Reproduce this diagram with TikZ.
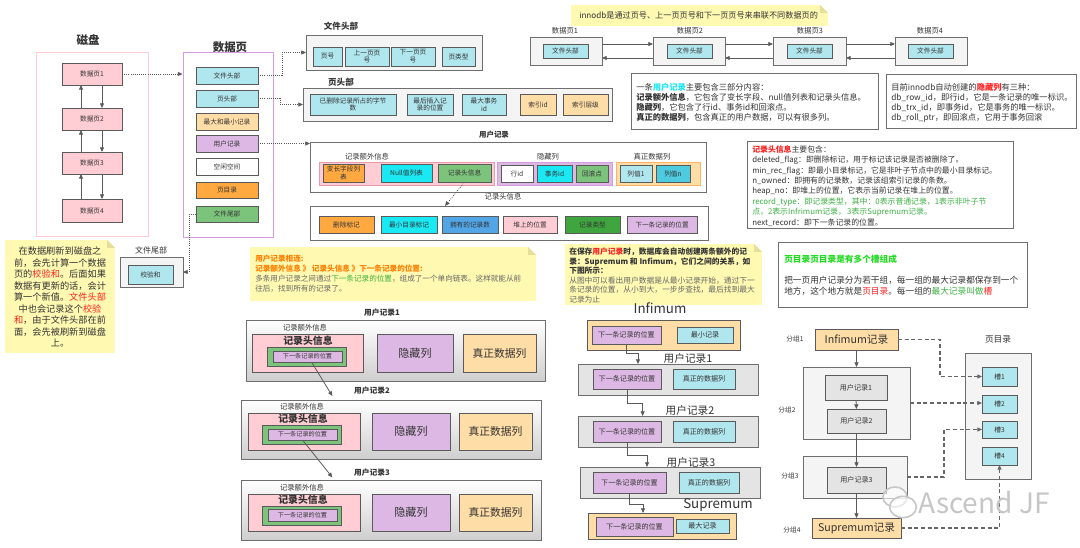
\documentclass[tikz,border=0pt]{standalone}
\usepackage{fontspec}
\setmainfont{Noto Sans CJK SC}
\usetikzlibrary{arrows.meta}
\definecolor{bd}{HTML}{5A5A5A}
\definecolor{cyl}{HTML}{B0E6EE}
\definecolor{cyb}{HTML}{1AE8F2}
\definecolor{orl}{HTML}{FFDDA6}
\definecolor{org}{HTML}{FFA940}
\definecolor{pur}{HTML}{DDB8E4}
\definecolor{grn}{HTML}{7CC47C}
\definecolor{grd}{HTML}{3FA63F}
\definecolor{blu}{HTML}{52A6E6}
\definecolor{pnk}{HTML}{FFCDD3}
\definecolor{cyn}{HTML}{4ECBE0}
\definecolor{gbox}{HTML}{F4F4F4}
\definecolor{gfl}{HTML}{E4E4E4}
\definecolor{gbd}{HTML}{6E6E6E}
\definecolor{dgr}{HTML}{666666}
\definecolor{yel}{HTML}{FFF9B1}
\definecolor{yelf}{HTML}{E6DE9A}
\definecolor{txt}{HTML}{333333}
\definecolor{rd}{HTML}{FF2020}
\definecolor{gtx}{HTML}{3CB043}
\definecolor{brg}{HTML}{22DD22}
\definecolor{otx}{HTML}{FF7F00}
\definecolor{purb}{HTML}{D59BE0}
\definecolor{pinkb}{HTML}{FFC9D3}
\definecolor{pinkd}{HTML}{E89AAA}
\newcommand{\bx}[7]{\node[#6, minimum width={((#4)-(#2))*0.75pt}, minimum height={((#5)-(#3))*0.75pt}] (#1) at ({((#2)+(#4))/2},{((#3)+(#5))/2}) {#7};}
\newcommand{\yfold}[3]{\fill[white] ({#1-8},#2) -- (#1,#2) -- (#1,{#2+8}) -- cycle;
  \fill[yelf] ({#1-8},#2) -- ({#1-8},{#2+8}) -- (#1,{#2+8}) -- cycle;}
\begin{document}
\begin{tikzpicture}[x=0.75pt,y=-0.75pt,
  bx/.style={draw=bd,line width=0.6pt,inner sep=0pt,outer sep=0pt,align=center,text=txt,font=\fontsize{5}{5.8}\selectfont},
  sCy/.style={bx,fill=cyl}, sCb/.style={bx,fill=cyb}, sOl/.style={bx,fill=orl},
  sOr/.style={bx,fill=org}, sPu/.style={bx,fill=pur}, sGr/.style={bx,fill=grn},
  sGd/.style={bx,fill=grd}, sBl/.style={bx,fill=blu}, sPk/.style={bx,fill=pnk},
  sCn/.style={bx,fill=cyn}, sWh/.style={bx,fill=white},
  gbx/.style={draw=gbd,line width=0.6pt,fill=gbox,inner sep=0pt,outer sep=0pt},
  frame/.style={draw=gbd,line width=0.7pt,fill=white,inner sep=0pt,outer sep=0pt},
  shd/.style={draw=gbd,line width=0.6pt,top color=white,bottom color=gray!38,inner sep=0pt,outer sep=0pt},
  gflat/.style={draw=gbd,line width=0.6pt,fill=gfl,inner sep=0pt,outer sep=0pt},
  lbl/.style={inner sep=0pt,text=txt,font=\fontsize{5.5}{6.5}\selectfont},
  ttl/.style={inner sep=0pt,text=txt,font=\bfseries\fontsize{6.4}{7.5}\selectfont},
  big/.style={inner sep=0pt,text=txt,font=\bfseries\fontsize{8.6}{10}\selectfont},
  lat/.style={inner sep=0pt,text=txt,font=\fontsize{10}{12}\selectfont},
  arr/.style={draw=bd,line width=0.6pt,-{Triangle[length=3.5pt,width=3pt]}},
  darr/.style={arr,densely dotted},
  dsh/.style={draw=dgr,line width=0.8pt,dash pattern=on 3pt off 2pt,-{Triangle[length=3.5pt,width=3pt]}},
  ynote/.style={fill=yel,inner sep=0pt,outer sep=0pt}
]
\useasboundingbox[fill=white] (0,0) rectangle (1080,548);

% ---------------- disk
\node[big] (tdisk) at (88,40) {磁盘};
\bx{disk}{36}{52}{148}{236}{draw=pinkb,line width=0.7pt,inner sep=0pt}{}
\bx{d1}{62}{63}{122}{85}{sPk}{数据页1}
\bx{d2}{62}{108}{122}{130}{sPk}{数据页2}
\bx{d3}{62}{152}{122}{174}{sPk}{数据页3}
\bx{d4}{62}{199}{122}{222}{sPk}{数据页4}
\foreach \a/\b in {d1/d2,d2/d3,d3/d4}{
  \draw[arr] ([xshift=-8.25pt]\b.north) -- ([xshift=-8.25pt]\a.south);
  \draw[arr] ([xshift=7.5pt]\a.south) -- ([xshift=7.5pt]\b.north);
}

% ---------------- data page
\node[big] (tpage) at (230,47) {数据页};
\bx{page}{183}{52}{273}{237}{draw=purb,line width=0.7pt,inner sep=0pt}{}
\bx{pfh}{196}{67}{258}{84}{sCy}{文件头部}
\bx{pph}{196}{90}{258}{107}{sCy}{页头部}
\bx{pmm}{196}{113}{258}{130}{sOl}{最大和最小记录}
\bx{pur}{196}{135}{258}{152}{sPu}{用户记录}
\bx{pfree}{196}{158}{258}{175}{sWh}{空闲空间}
\bx{pdir}{196}{182}{258}{198}{sOr}{页目录}
\bx{ptail}{196}{206}{258}{222}{sGr}{文件尾部}
\draw[darr] (d1.east) -- (d1.east -| page.west);

% ---------------- file tail
\node[lbl,font=\fontsize{6}{7}\selectfont] (ttail) at (151,250) {文件尾部};
\bx{tail}{120}{257}{183}{287}{gbx}{}
\bx{tail1}{128}{265}{173}{284}{sCy}{校验和}
\draw[darr] (ptail.west) -- ++(-7,0) |- (tail.east);

% ---------------- note 1
\bx{n1}{5}{240}{115}{353}{ynote}{}
\yfold{115}{240}{}
\node[inner sep=0pt,align=center,text=txt,font=\fontsize{6.9}{8.6}\selectfont] (n1t) at (60,297)
{在数据刷新到磁盘之\\前，会先计算一个数据\\页的\textcolor{rd}{校验和}。后面如果\\数据有更新的话，会计\\算一个新值。\textcolor{rd}{文件头部}\\中也会记录这个\textcolor{rd}{校验}\\\textcolor{rd}{和}，由于文件头部在前\\面，会先被刷新到磁盘\\上。};

% ---------------- file header
\node[ttl] (tfh) at (341,26) {文件头部};
\bx{fh}{306}{35}{482}{70}{gbx}{}
\bx{fh1}{313}{47}{342}{66}{sCy}{页号}
\bx{fh2}{345}{47}{389}{66}{sCy}{上一页页\\号}
\bx{fh3}{391}{47}{435}{66}{sCy}{下一页页\\号}
\bx{fh4}{442}{47}{475}{66}{sCy}{页类型}
\draw[darr] (pfh.east) -- ++(24,0) |- (fh.west);

% ---------------- page header
\node[ttl] (tph) at (341,82) {页头部};
\bx{ph}{303}{88}{612}{121}{gbx}{}
\bx{ph1}{310}{94}{396}{115}{sCy}{已删除记录所占的字节\\数}
\bx{ph2}{407}{94}{453}{115}{sCy}{最后插入记\\录的位置}
\bx{ph3}{462}{94}{506}{115}{sCy}{最大事务\\id}
\bx{ph4}{520}{94}{556}{115}{sOl}{索引id}
\bx{ph5}{563}{94}{608}{115}{sOl}{索引层级}
\draw[darr] (pph.east) -- ++(22,0) |- (ph.west);

% ---------------- user record
\node[ttl,font=\bfseries\fontsize{5.6}{6.5}\selectfont] (tur) at (494,135) {用户记录};
\bx{urb}{310}{142}{706}{192}{frame}{}
\node[lbl] (lextra) at (367,157) {记录额外信息};
\bx{ex}{319}{162}{494}{185}{draw=pinkd,line width=0.7pt,fill=pnk,inner sep=0pt}{}
\bx{ex1}{323}{164}{364}{182}{sOr}{变长字段列\\表}
\bx{ex2}{381}{164}{432}{182}{sCb}{Null值列表}
\bx{ex3}{438}{164}{491}{182}{sGr}{记录头信息}
\node[lbl] (lhid) at (548,157) {隐藏列};
\bx{hid}{497}{162}{612}{185}{draw=purb,line width=0.7pt,fill=pur,inner sep=0pt}{}
\bx{hid1}{501}{165}{533}{182}{sWh}{行id}
\bx{hid2}{537}{165}{572}{182}{sCb}{事务id}
\bx{hid3}{576}{165}{608}{182}{sGr}{回滚点}
\node[lbl] (lreal) at (652,157) {真正数据列};
\bx{real}{616}{162}{700}{185}{draw=orange!60,line width=0.7pt,fill=orl,inner sep=0pt}{}
\bx{real1}{620}{165}{652}{182}{sCy}{列值1}
\bx{real2}{656}{165}{690}{182}{sCn}{列值n}
\draw[darr] (pur.east) -- (pur.east -| urb.west);

% ---------------- record header
\node[lbl] (trh) at (503,197) {记录头信息};
\bx{rh}{310}{206}{708}{240}{frame}{}
\bx{rh1}{319}{216}{374}{233}{sOr}{删除标记}
\bx{rh2}{381}{216}{437}{233}{sCb}{最小目录标记}
\bx{rh3}{442}{216}{498}{233}{sBl}{拥有的记录数}
\bx{rh4}{503}{216}{557}{233}{sPk}{堆上的位置}
\bx{rh5}{565}{216}{620}{233}{sGd}{记录类型}
\bx{rh6}{627}{216}{697}{233}{sPu}{下一条记录的位置}
\draw[darr] (ex3.south) -- ([xshift=-48pt]rh.north);

% ---------------- note 2
\bx{n2}{250}{247}{536}{301}{ynote}{}
\yfold{536}{247}{}
\node[anchor=north west,inner sep=0pt,align=left,text=dgr,font=\fontsize{5.7}{7.5}\selectfont] (n2t) at (255,255)
{\textcolor{otx}{\textbf{用户记录相连:}}\\
\textcolor{otx}{\textbf{记录额外信息 》 记录头信息 》下一条记录的位置:}}\\
多条用户记录之间通过\textcolor{gtx}{下一条记录的位置}，组成了一个单向链表。这样就能从前\\
往后，找到所有的记录了。};

% ---------------- record chain (left)
\node[ttl,font=\bfseries\fontsize{5.8}{7}\selectfont] (tr1) at (382,313) {用户记录1};
\bx{r1}{246}{320}{545}{381}{shd}{}
\node[lbl] (r1l) at (305,328) {记录额外信息};
\bx{r1p}{252}{334}{363}{372}{sPk}{}
\node[ttl,font=\bfseries\fontsize{7.4}{8}\selectfont] (r1h) at (308,341) {记录头信息};
\bx{r1g}{267}{347}{346}{366}{sGr}{}
\bx{r1n}{273}{351}{342}{362}{sPu,font=\fontsize{4.6}{5}\selectfont}{下一条记录的位置}
\bx{r1hid}{377}{334}{453}{372}{sPu,font=\fontsize{8.3}{9}\selectfont}{隐藏列}
\bx{r1real}{463}{334}{536}{372}{sOl,font=\fontsize{8.1}{9}\selectfont}{真正数据列}

\node[ttl,font=\bfseries\fontsize{5.8}{7}\selectfont] (tr2) at (372,391) {用户记录2};
\bx{r2}{241}{400}{541}{459}{shd}{}
\node[lbl] (r2l) at (302,407) {记录额外信息};
\bx{r2p}{248}{413}{360}{450}{sPk}{}
\node[ttl,font=\bfseries\fontsize{7.4}{8}\selectfont] (r2h) at (303,419) {记录头信息};
\bx{r2g}{262}{425}{341}{444}{sGr}{}
\bx{r2n}{268}{429}{337}{440}{sPu,font=\fontsize{4.6}{5}\selectfont}{下一条记录的位置}
\bx{r2hid}{372}{413}{450}{450}{sPu,font=\fontsize{8.3}{9}\selectfont}{隐藏列}
\bx{r2real}{459}{413}{532}{450}{sOl,font=\fontsize{8.1}{9}\selectfont}{真正数据列}

\node[ttl,font=\bfseries\fontsize{5.8}{7}\selectfont] (tr3) at (372,473) {用户记录3};
\bx{r3}{241}{480}{541}{540}{shd}{}
\node[lbl] (r3l) at (302,488) {记录额外信息};
\bx{r3p}{248}{494}{360}{531}{sPk}{}
\node[ttl,font=\bfseries\fontsize{7.4}{8}\selectfont] (r3h) at (303,500) {记录头信息};
\bx{r3g}{262}{506}{341}{525}{sGr}{}
\bx{r3n}{268}{509}{337}{521}{sPu,font=\fontsize{4.6}{5}\selectfont}{下一条记录的位置}
\bx{r3hid}{372}{494}{450}{531}{sPu,font=\fontsize{8.3}{9}\selectfont}{隐藏列}
\bx{r3real}{459}{494}{532}{531}{sOl,font=\fontsize{8.1}{9}\selectfont}{真正数据列}

\draw[arr] ([xshift=3pt]r1n.south) -- ([xshift=-44pt,yshift=3pt]r2.north);
\draw[arr] (r2n.south) -- ([xshift=-44pt,yshift=2pt]r3.north);

% ---------------- banner + data page chain
\bx{ban}{571}{5}{828}{26}{ynote}{}
\yfold{828}{5}{}
\node[anchor=west,inner sep=0pt,text=txt,font=\fontsize{6.1}{7}\selectfont] (bant) at (579,15.5) {innodb是通过页号、上一页页号和下一页页号来串联不同数据页的};

\node[lbl] (tp1) at (565,31) {数据页1};
\bx{p1}{530}{37}{602}{65}{gbx}{}
\bx{p1f}{543}{44}{588}{58}{sCy}{文件头部}
\node[lbl] (tp2) at (690,31) {数据页2};
\bx{p2}{653}{37}{725}{65}{gbx}{}
\bx{p2f}{667}{44}{712}{58}{sCy}{文件头部}
\node[lbl] (tp3) at (810,31) {数据页3};
\bx{p3}{773}{37}{846}{65}{gbx}{}
\bx{p3f}{787}{44}{832}{58}{sCy}{文件头部}
\node[lbl] (tp4) at (930,31) {数据页4};
\bx{p4}{895}{37}{967}{65}{gbx}{}
\bx{p4f}{908}{44}{953}{58}{sCy}{文件头部}
\foreach \a/\b in {p1/p2,p2/p3,p3/p4}{
  \draw[arr] ([yshift=5.25pt]\a.east) -- ([yshift=5.25pt]\b.west);
  \draw[arr] ([yshift=-5.25pt]\b.west) -- ([yshift=-5.25pt]\a.east);
}

% ---------------- text boxes
\bx{tb1}{631}{73}{878}{129}{frame}{}
\node[anchor=north west,inner sep=0pt,align=left,text=txt,font=\fontsize{6.2}{7.5}\selectfont] (tb1t) at (636,83)
{一条\textbf{\textcolor{cyb}{用户记录}}主要包含三部分内容：\\
\textbf{记录额外信息}，它包含了变长字段、null值列表和记录头信息。\\
\textbf{隐藏列}，它包含了行id、事务id和回滚点。\\
\textbf{真正的数据列}，包含真正的用户数据，可以有很多列。};

\bx{tb2}{886}{74}{1076}{128}{frame}{}
\node[anchor=north west,inner sep=0pt,align=left,text=txt,font=\fontsize{6.2}{7.5}\selectfont] (tb2t) at (891,83)
{目前innodb自动创建的\textbf{\textcolor{rd}{隐藏列}}有三种：\\
db\_row\_id，即行id，它是一条记录的唯一标识。\\
db\_trx\_id，即事务id，它是事务的唯一标识。\\
db\_roll\_ptr，即回滚点，它用于事务回滚};

\bx{tb3}{747}{141}{1013}{228}{frame}{}
\node[anchor=north west,inner sep=0pt,align=left,text=txt,font=\fontsize{5.9}{7.85}\selectfont] (tb3t) at (752,145)
{\textbf{\textcolor{rd}{记录头信息}}主要包含：\\
deleted\_flag：即删除标记，用于标记该记录是否被删除了。\\
min\_rec\_flag：即最小目录标记，它是非叶子节点中的最小目录标记。\\
n\_owned：即拥有的记录数，记录该组索引记录的条数。\\
heap\_no：即堆上的位置，它表示当前记录在堆上的位置。\\
\textcolor{gtx}{record\_type：即记录类型，其中：0表示普通记录，1表示非叶子节}\\
\textcolor{gtx}{点，2表示Infrimum记录，\,3表示Supremum记录。}\\
next\_record：即下一条记录的位置。};

\bx{tb4}{778}{242}{1027}{307}{frame}{}
\node[anchor=north west,inner sep=0pt,align=left,text=txt,font=\fontsize{6.5}{8.2}\selectfont] (tb4t) at (784,255)
{\textbf{\textcolor{brg}{页目录页目录是有多个槽组成}}\\[7.5pt]
把一页用户记录分为若干组，每一组的最大记录都保存到一个\\
地方，这个地方就是\textcolor{rd}{页目录}。每一组的\textcolor{gtx}{最大记录叫做}\textcolor{rd}{槽}};

% ---------------- note 3
\bx{n3}{565}{244}{762}{305}{ynote}{}
\yfold{762}{244}{}
\node[anchor=north west,inner sep=0pt,align=left,text=dgr,font=\fontsize{5.8}{7.2}\selectfont] (n3t) at (569,247.5)
{\textcolor{txt}{\textbf{在保存\textcolor{rd}{用户记录}时，数据库会自动创建两条额外的记}}\\
\textcolor{txt}{\textbf{录：Supremum 和 Infimum，它们之间的关系，如}}\\
\textcolor{txt}{\textbf{下图所示：}}\\
从图中可以看出用户数据是从最小记录开始，通过下一\\
条记录的位置，从小到大，一步步查找，最后找到最大\\
记录为止};

% ---------------- infimum / supremum chain
\node[lat] (tinf) at (660,308) {Infimum};
\bx{inf}{587}{320}{740}{350}{sOl}{}
\bx{inf1}{592}{326}{661}{344}{sPu,font=\fontsize{5.3}{6}\selectfont}{下一条记录的位置}
\bx{inf2}{677}{327}{733}{343}{sCy,font=\fontsize{5.3}{6}\selectfont}{最小记录}
\node[lat,font=\fontsize{8}{9}\selectfont] (tu1) at (688,358) {用户记录1};
\bx{u1}{578}{364}{758}{395}{gflat}{}
\bx{u1a}{593}{369}{661}{389}{sPu,font=\fontsize{5.3}{6}\selectfont}{下一条记录的位置}
\bx{u1b}{673}{369}{735}{389}{sCy,font=\fontsize{5.3}{6}\selectfont}{真正的数据列}
\node[lat,font=\fontsize{8}{9}\selectfont] (tu2) at (690,410) {用户记录2};
\bx{u2}{578}{416}{758}{447}{gflat}{}
\bx{u2a}{593}{421}{661}{442}{sPu,font=\fontsize{5.3}{6}\selectfont}{下一条记录的位置}
\bx{u2b}{673}{421}{735}{442}{sCy,font=\fontsize{5.3}{6}\selectfont}{真正的数据列}
\node[lat,font=\fontsize{8}{9}\selectfont] (tu3) at (691,462) {用户记录3};
\bx{u3}{580}{467}{760}{498}{gflat}{}
\bx{u3a}{593}{472}{666}{493}{sPu,font=\fontsize{5.3}{6}\selectfont}{下一条记录的位置}
\bx{u3b}{679}{472}{739}{493}{sCy,font=\fontsize{5.3}{6}\selectfont}{真正的数据列}
\node[lat] (tsup) at (718,505) {Supremum};
\bx{sup}{588}{513}{736}{539}{sOl}{}
\bx{sup1}{596}{517}{673}{536}{sPu,font=\fontsize{5.3}{6}\selectfont}{下一条记录的位置}
\bx{sup2}{676}{519}{729}{533}{sCy,font=\fontsize{5.3}{6}\selectfont}{最大记录}
\draw[arr] (inf1.south) -- ++(0,9) -| ([xshift=-22.5pt]u1.north);
\draw[arr] (u1a.south) -- ++(0,14) -| ([xshift=-19pt]u2.north);
\draw[arr] (u2a.south) -- ++(0,13) -| ([xshift=-17.25pt]u3.north);
\draw[arr] (u3a.south) -- ++(0,11) -| ([xshift=-14.25pt]sup.north);

% ---------------- page directory
\node[lbl,font=\fontsize{5}{6}\selectfont] (g1) at (795,339) {分组1};
\bx{dinf}{815}{329}{898}{350}{sOl,font=\fontsize{8}{9}\selectfont}{Infimum记录}
\node[lbl,font=\fontsize{6.5}{7.5}\selectfont] (tdir) at (998,339) {页目录};
\bx{dir}{965}{353}{1031}{479}{gbx}{}
\bx{s1}{982}{367}{1017}{386}{sCy}{槽1}
\bx{s2}{982}{395}{1017}{413}{sCy}{槽2}
\bx{s3}{982}{421}{1017}{438}{sCy}{槽3}
\bx{s4}{982}{447}{1017}{465}{sCy}{槽4}
\node[lbl,font=\fontsize{5}{6}\selectfont] (g2) at (787,410) {分组2};
\bx{grp2}{803}{367}{910}{439}{gbx}{}
\bx{gu1}{825}{375}{887}{400}{bx,fill=gfl,font=\fontsize{5.3}{6}\selectfont}{用户记录1}
\bx{gu2}{827}{409}{886}{433}{bx,fill=gfl,font=\fontsize{5.3}{6}\selectfont}{用户记录2}
\node[lbl,font=\fontsize{5}{6}\selectfont] (g3) at (790,476) {分组3};
\bx{grp3}{803}{456}{907}{498}{gbx}{}
\bx{gu3}{827}{467}{886}{493}{bx,fill=gfl,font=\fontsize{5.3}{6}\selectfont}{用户记录3}
\node[lbl,font=\fontsize{5}{6}\selectfont] (g4) at (792,530) {分组4};
\bx{dsup}{812}{518}{901}{538}{sOl,font=\fontsize{8}{9}\selectfont}{Supremum记录}
\draw[arr] (dinf.south) -- (grp2.north);
\draw[arr] (gu1.south) -- (gu2.north);
\draw[arr] (gu2.south) -- (gu3.north);
\draw[arr] (gu3.south) -- (dsup.north);
\draw[dsh] (dinf.east) -- ++(42,0) |- (s1.west);
\draw[dsh] (grp2.east) -- (grp2.east -| s2.west);
\draw[dsh] (grp3.east) -- ++(37,0) |- (s3.west);
\draw[dsh] (dsup.east) -| (s4.south);

% ---------------- watermark
\draw[gray!45,line width=1.2pt,fill=white,fill opacity=0.6] (895,497) ellipse [x radius=9pt,y radius=7.5pt];
\draw[gray!45,line width=1.2pt,fill=white,fill opacity=0.6] (903,507) ellipse [x radius=10pt,y radius=8pt];
\node[inner sep=0pt,text=gray!45,font=\fontsize{21}{24}\selectfont] (wm) at (984,503) {Ascend JF};
\end{tikzpicture}
\end{document}
